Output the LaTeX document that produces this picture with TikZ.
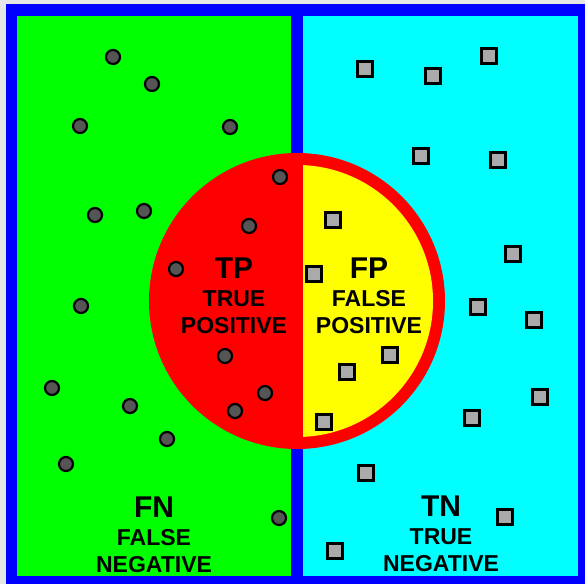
\documentclass[tikz,border=0pt]{standalone}
\usepackage{fontspec}
\setmainfont{Liberation Sans}
\usepackage{tikz}
\definecolor{fondo}{HTML}{E6E6E6}
\definecolor{azul}{HTML}{0000FF}
\definecolor{verde}{HTML}{00FF00}
\definecolor{cian}{HTML}{00FFFF}
\definecolor{rojo}{HTML}{FF0000}
\definecolor{amarillo}{HTML}{FFFF00}
\definecolor{gris}{HTML}{555555}
\definecolor{plata}{HTML}{AAAAAA}

\begin{document}
\begin{tikzpicture}[x=1pt, y=-1pt,
  punto/.style={circle, draw=black, line width=2.2pt, fill=gris, inner sep=0pt, minimum size=14pt},
  cuadro/.style={rectangle, draw=black, line width=2.2pt, fill=plata, inner sep=0pt, minimum size=15pt},
  sigla/.style={anchor=base, inner sep=0pt, font=\bfseries\fontsize{30}{30}\selectfont},
  texto/.style={anchor=base, inner sep=0pt, font=\bfseries\fontsize{23}{27}\selectfont}]
\useasboundingbox (0,0) rectangle (585,584);
\fill[fondo] (0,0) rectangle (585,584);
\fill[azul] (6,4) rectangle (585,584);
\fill[verde] (17,16) rectangle (291,576);
\fill[cian] (303,16) rectangle (578,576);
% circulo: mitad roja, mitad amarilla
\fill[rojo] (297,301) circle[radius=148pt];
\begin{scope}
  \clip (303,0) rectangle (585,584);
  \fill[amarillo] (297,301) circle[radius=136pt];
\end{scope}
% puntos
\foreach \x/\y [count=\i] in {113/57, 152/84, 80/126, 230/127, 280/177, 95/215, 144/211,
    249/226, 176/269, 81/306, 225/356, 52/388, 265/393, 130/406, 235/411, 167/439,
    66/464, 279/518}
  \node[punto] (p\i) at (\x,\y) {};
% cuadros
\foreach \x/\y [count=\i] in {365/69, 433/76, 489/56, 421/156, 498/160, 333/220, 513/254,
    314/274, 478/307, 534/320, 390/355, 347/372, 540/397, 472/418, 324/422, 366/473,
    505/517, 335/551}
  \node[cuadro] (c\i) at (\x,\y) {};
% etiquetas
\foreach \n/\x/\y/\a/\b/\c in {tp/234/278/TP/TRUE/POSITIVE, fp/369/278/FP/FALSE/POSITIVE,
    fn/154/517/FN/FALSE/NEGATIVE, tn/441/516/TN/TRUE/NEGATIVE} {
  \node[sigla] (\n) at (\x,\y) {\a};
  \node[texto] (\n1) at (\x,\y+28) {\b};
  \node[texto] (\n2) at (\x,\y+55) {\c};
}
\end{tikzpicture}
\end{document}
